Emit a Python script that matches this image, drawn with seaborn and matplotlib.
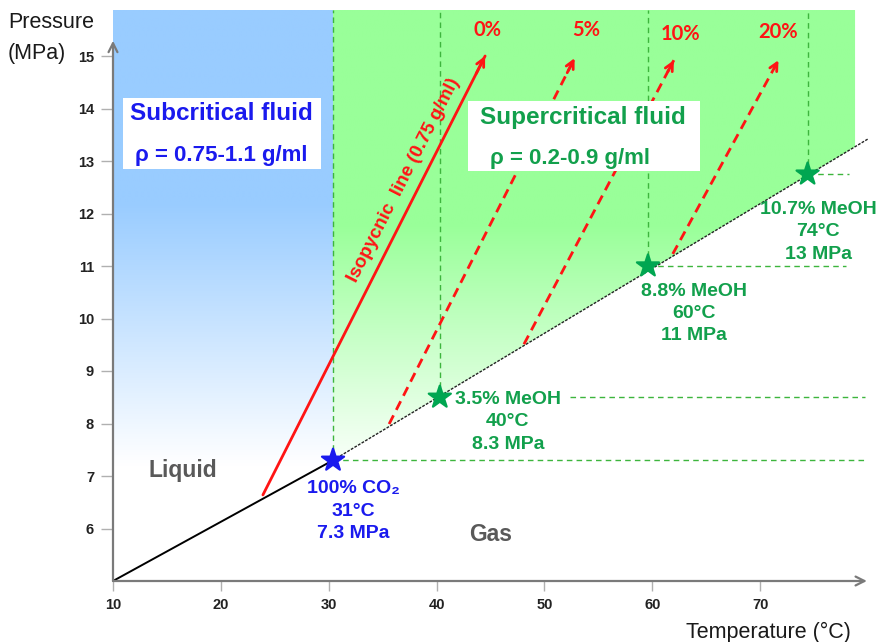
import numpy as np
import matplotlib
matplotlib.use("Agg")
import matplotlib.pyplot as plt
import seaborn as sns
from matplotlib.patches import Rectangle, Polygon

# ---------------- data ----------------
tick_T = [10, 20, 30, 40, 50, 60, 70]
tick_P = [6, 7, 8, 9, 10, 11, 12, 13, 14, 15]

curve_T = [10.0, 30.4, 80.0]          # vapour/critical boundary
curve_P = [5.0, 7.3, 13.42]

point_T = [30.4, 40.3, 59.6, 74.4]    # critical points (star markers)
point_P = [7.3, 8.5, 11.0, 12.75]
point_names = ["100% CO₂", "3.5% MeOH", "8.8% MeOH", "10.7% MeOH"]
point_temps = ["31°C", "40°C", "60°C", "74°C"]
point_press = ["7.3 MPa", "8.3 MPa", "11 MPa", "13 MPa"]

mix_labels = ["0%", "5%", "10%", "20%"]  # isopycnic lines
mix_start_T = [23.9, 35.6, 48.1, 61.9]
mix_start_P = [6.64, 7.99, 9.51, 11.23]
mix_end_T = [44.5, 52.8, 62.0, 71.7]
mix_end_P = [15.0, 14.96, 14.92, 14.92]

# ---------------- style ----------------
sns.set_style("white")
plt.rcParams["font.family"] = ["Liberation Sans", "DejaVu Sans"]

RED = "#FF1414"
BLUE = "#1A1AEE"
GREEN_TXT = "#12A04C"
GREEN_LN = "#3DB53D"
GRAY = "#7A7A7A"

W, H = 883, 642
fig = plt.figure(figsize=(W / 100, H / 100), dpi=100)
ax = fig.add_axes([113 / W, 61 / H, 755 / W, 571 / H])
XMIN, XMAX = 10, 80
YMIN, YMAX = 5, 5 + 571 / 52.5

# ---------------- gradient backgrounds ----------------
def gradient_region(verts, x0, x1, rgb, p0, p1):
    poly = Polygon(verts, closed=True, facecolor="none", edgecolor="none",
                   transform=ax.transData)
    ax.add_patch(poly)
    P = np.linspace(YMIN, YMAX, 500)[:, None]
    f = np.clip((P - p0) / (p1 - p0), 0, 1)[:, :, None]
    col = np.array(rgb)[None, None, :] / 255.0
    img = (1 - f) * 1.0 + f * col
    img = np.repeat(img, 2, axis=1)
    im = ax.imshow(img, extent=[x0, x1, YMIN, YMAX], origin="lower",
                   aspect="auto", interpolation="bilinear", zorder=0)
    im.set_clip_path(poly)

Tc = curve_T[1]
blue_verts = [(XMIN, YMIN), (Tc, YMIN), (Tc, YMAX), (XMIN, YMAX)]
gradient_region(blue_verts, XMIN, Tc, (153, 204, 255), 7.2, 12.2)

green_right = 78.8
gT = np.linspace(Tc, green_right, 50)
gP = np.interp(gT, curve_T, curve_P)
green_verts = list(zip(gT, gP)) + [(green_right, YMAX), (Tc, YMAX)]
gradient_region(green_verts, Tc, green_right, (153, 255, 153), 7.0, 11.8)

# ---------------- boundary line ----------------
sns.lineplot(x=curve_T[:2], y=curve_P[:2], color="black", lw=1.4, ax=ax,
             sort=False, zorder=4)
sns.lineplot(x=curve_T[1:], y=curve_P[1:], color="#222222", lw=1.0, ax=ax,
             sort=False, zorder=4, linestyle=(0, (2, 1.0)))

# ---------------- green guide lines ----------------
hline_from = [point_T[0], 52.4, point_T[2], point_T[3]]
hline_to = [79.7, 79.7, 78.0, 78.2]
for i in range(len(point_T)):
    ax.plot([point_T[i], point_T[i]], [point_P[i], YMAX], color=GREEN_LN,
            lw=1.0, ls=(0, (4, 3)), zorder=3)
    ax.plot([hline_from[i], hline_to[i]], [point_P[i], point_P[i]],
            color=GREEN_LN, lw=1.0, ls=(0, (4, 3)), zorder=3)

# ---------------- red lines with arrows ----------------
for i in range(len(mix_labels)):
    xs = [mix_start_T[i], mix_end_T[i]]
    ys = [mix_start_P[i], mix_end_P[i]]
    if i == 0:
        sns.lineplot(x=xs, y=ys, color=RED, lw=2.0, ax=ax, sort=False, zorder=5)
    else:
        sns.lineplot(x=xs, y=ys, color=RED, lw=2.0, ax=ax, sort=False,
                     zorder=5, linestyle=(0, (3.5, 2.2)))
    t = 0.96
    ax.annotate("", xy=(xs[1], ys[1]),
                xytext=(xs[0] + t * (xs[1] - xs[0]), ys[0] + t * (ys[1] - ys[0])),
                arrowprops=dict(arrowstyle="->", color=RED, lw=2.0,
                                shrinkA=0, shrinkB=0, mutation_scale=14),
                zorder=5)

pct_pos = [(44.7, 15.5), (53.9, 15.5), (62.6, 15.42), (71.7, 15.46)]
for lab, (x, y) in zip(mix_labels, pct_pos):
    ax.text(x, y, lab, color=RED, fontsize=14.5, fontweight="bold",
            family=["Lato", "DejaVu Sans"], ha="center", va="center", zorder=7)

ax.text(37.0, 12.64, "Isopycnic  line (0.75 g/ml)", color=RED, fontsize=13.5,
        fontweight="bold", rotation=63, rotation_mode="anchor",
        ha="center", va="center", zorder=7)

# ---------------- stars ----------------
sns.scatterplot(x=point_T, y=point_P, hue=point_names,
                palette=[BLUE, "#00A651", "#00A651", "#00A651"],
                marker="*", s=280, linewidth=1.6, legend=False, ax=ax, zorder=8)
for coll in ax.collections:
    coll.set_edgecolor(coll.get_facecolor())

label_pos = [(32.3, 6.33), (46.6, 8.03), (63.9, 10.1), (75.4, 11.65)]
label_col = [BLUE, GREEN_TXT, GREEN_TXT, GREEN_TXT]
for i, (x, y) in enumerate(label_pos):
    ax.text(x, y, f"{point_names[i]}\n{point_temps[i]}\n{point_press[i]}",
            color=label_col[i], fontsize=14, fontweight="bold", ha="center",
            va="center", multialignment="center", linespacing=1.4, zorder=7)

# ---------------- region boxes ----------------
ax.add_patch(Rectangle((10.93, 12.85), 29.3 - 10.93, 14.2 - 12.85,
                       facecolor="white", edgecolor="none", zorder=6))
ax.text(20.08, 13.91, "Subcritical fluid", color=BLUE, fontsize=17.5,
        fontweight="bold", ha="center", va="center", zorder=7)
ax.text(20.08, 13.11, "ρ = 0.75-1.1 g/ml", color=BLUE, fontsize=16,
        fontweight="bold", ha="center", va="center", zorder=7)

ax.add_patch(Rectangle((42.9, 12.8), 64.4 - 42.9, 14.14 - 12.8,
                       facecolor="white", edgecolor="none", zorder=6))
ax.text(53.6, 13.82, "Supercritical fluid", color=GREEN_TXT, fontsize=17.5,
        fontweight="bold", ha="center", va="center", zorder=7)
ax.text(52.4, 13.05, "ρ = 0.2-0.9 g/ml", color=GREEN_TXT, fontsize=16,
        fontweight="bold", ha="center", va="center", zorder=7)

ax.text(16.5, 7.11, "Liquid", color="#595959", fontsize=16.5,
        fontweight="bold", ha="center", va="center", zorder=7)
ax.text(45.0, 5.88, "Gas", color="#595959", fontsize=16.5,
        fontweight="bold", ha="center", va="center", zorder=7)

# ---------------- axes ----------------
ax.set_xlim(XMIN, XMAX)
ax.set_ylim(YMIN, YMAX)
for s in ax.spines.values():
    s.set_visible(False)
ax.annotate("", xy=(79.9, YMIN), xytext=(XMIN, YMIN),
            arrowprops=dict(arrowstyle="->", color=GRAY, lw=1.6, shrinkA=0,
                            shrinkB=0, mutation_scale=16), zorder=9,
            annotation_clip=False)
ax.annotate("", xy=(XMIN, 15.29), xytext=(XMIN, YMIN),
            arrowprops=dict(arrowstyle="->", color=GRAY, lw=1.6, shrinkA=0,
                            shrinkB=0, mutation_scale=16), zorder=9,
            annotation_clip=False)

ax.set_xticks(tick_T)
ax.set_xticklabels([str(t) for t in tick_T])
ax.set_yticks(tick_P)
ax.set_yticklabels([str(p) for p in tick_P])
ax.tick_params(axis="x", bottom=True, direction="out", length=7.5, width=1,
               color="#B0B0B0", pad=5, labelsize=10.5, labelcolor="#222222")
ax.tick_params(axis="y", left=True, direction="out", length=8.6, width=1,
               color="#B0B0B0", pad=5, labelsize=10.5, labelcolor="#222222")
for lab in ax.get_xticklabels() + ax.get_yticklabels():
    lab.set_fontweight("bold")
ax.grid(False)

fig.text(8 / W, 1 - 12 / H, "Pressure", fontsize=15.5, ha="left",
         va="top", color="#1a1a1a")
fig.text(8 / W, 1 - 43 / H, "(MPa)", fontsize=15.5, ha="left",
         va="top", color="#1a1a1a")
fig.text(851 / W, 1 - 638 / H, "Temperature (°C)", fontsize=15.5, ha="right",
         va="baseline", color="#1a1a1a")

fig.savefig("out.png", dpi=100, facecolor="white")
